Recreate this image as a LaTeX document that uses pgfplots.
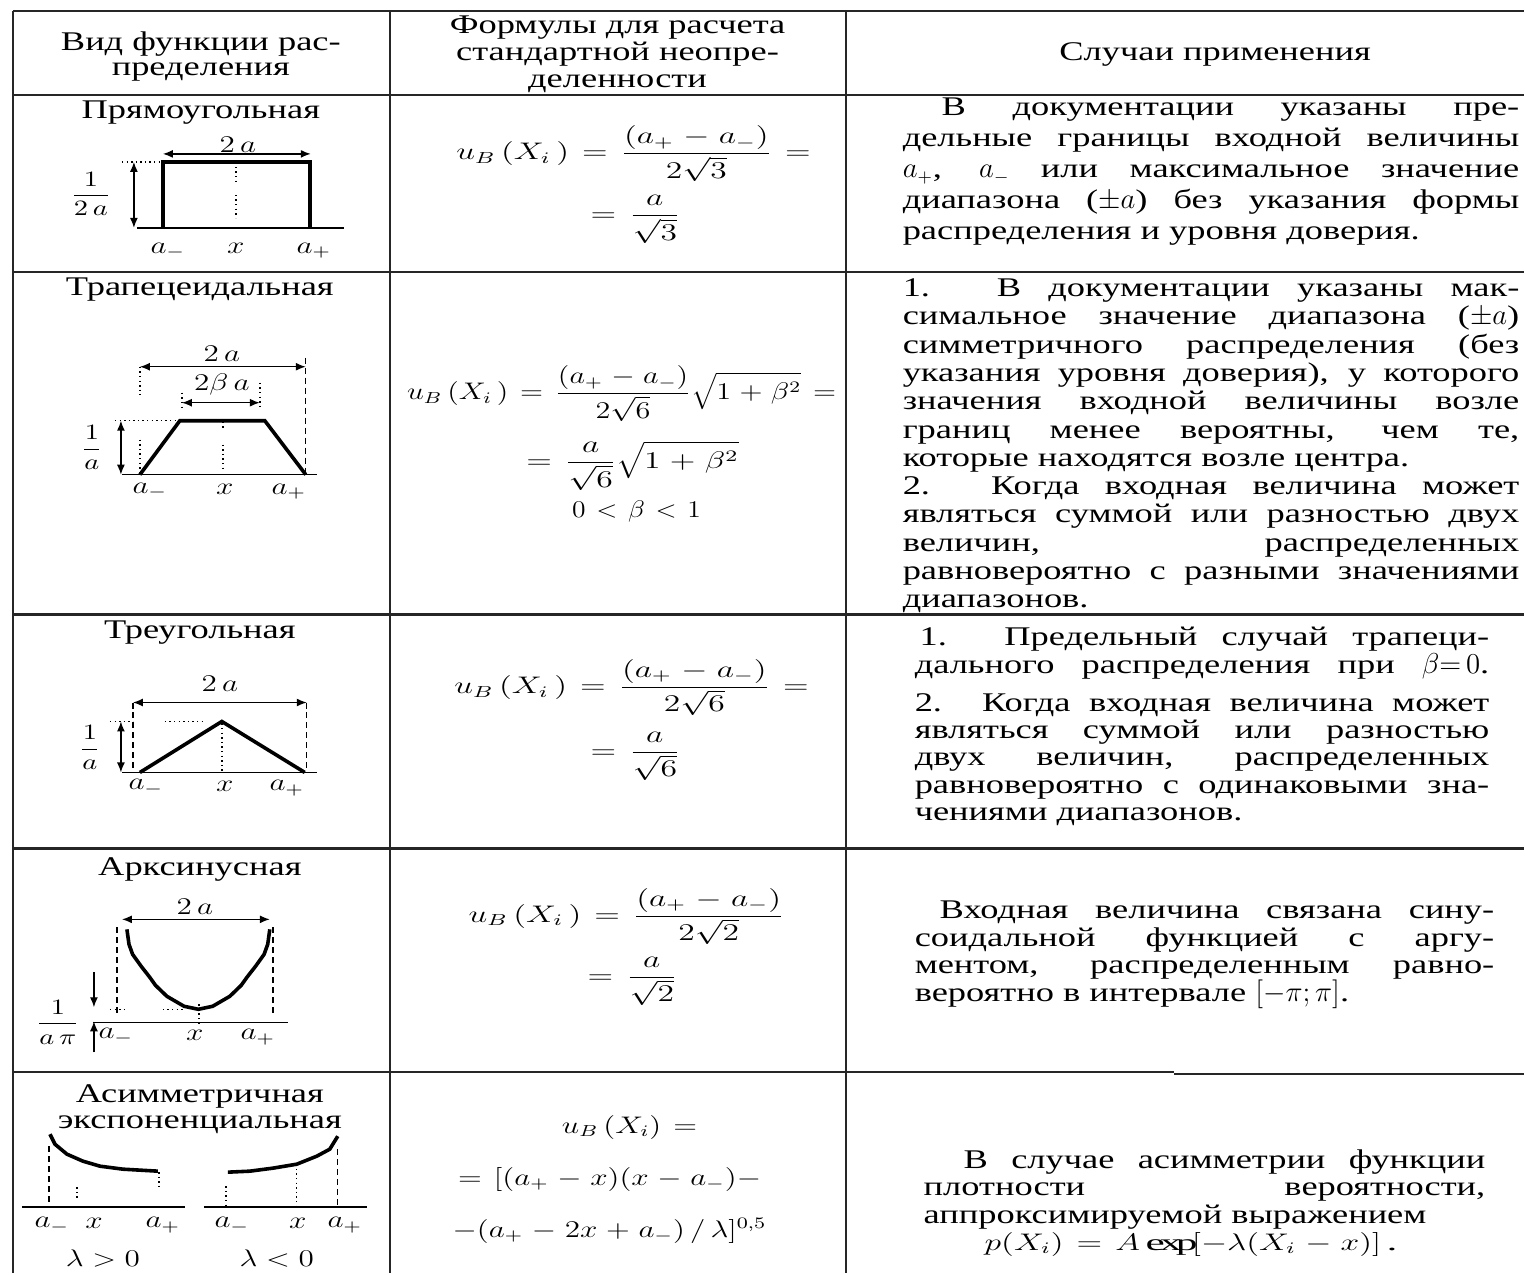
\documentclass[border=0pt]{standalone}
\usepackage{fontspec}
\setmainfont{Liberation Serif}[FakeStretch=1.35]
\usepackage{pgfplots}
\pgfplotsset{compat=1.18}
\usetikzlibrary{arrows.meta}
\newcommand{\TF}{\fontsize{13.5}{16}\selectfont}
\newcommand{\MF}{\fontsize{11.5}{14}\selectfont\thickmuskip=7mu plus 2mu\medmuskip=5mu plus 2mu}
\newcommand{\LF}{\fontsize{12}{14}\selectfont}
\newcommand{\SF}{\fontsize{11}{13}\selectfont}
\tikzset{
  tx/.style={inner sep=0pt, font=\TF},
  tl/.style={line width=1.1pt, black!85},
  tk/.style={line width=1.8pt, black},
  tn/.style={line width=0.7pt, black},
  dt/.style={line width=0.7pt, black, dash pattern=on 0.7pt off 1.6pt},
  ds/.style={line width=0.7pt, black, dash pattern=on 3pt off 2pt},
  ar/.style={line width=0.7pt, black, {Latex[length=5pt,width=4pt]}-{Latex[length=5pt,width=4pt]}},
  ad/.style={line width=0.7pt, black, -{Latex[length=5pt,width=4pt]}},
}
% justified line: x, baseline y, width (pt), text
\newcommand{\J}[4]{\node[tx,anchor=base west] at (axis cs:#1,#2) {\makebox[#3pt][s]{#4}};}
% left aligned line
\newcommand{\Lt}[3]{\node[tx,anchor=base west] at (axis cs:#1,#2) {#3};}
% centred line
\newcommand{\Ct}[3]{\node[tx,anchor=base] at (axis cs:#1,#2) {#3};}
% centred label (stretched like the reference)
\newcommand{\Mt}[3]{\node[inner sep=0pt,anchor=center,font=\LF,xscale=1.3] at (axis cs:#1,#2) {#3};}
\newcommand{\Fr}[3]{\node[inner sep=0pt,anchor=center,font=\SF,xscale=1.3] at (axis cs:#1,#2) {#3};}
% formula, anchored at its baseline: x, y, horizontal stretch, formula
\newcommand{\Fm}[4]{\node[inner sep=0pt,anchor=base,font=\MF,xscale=#3] at (axis cs:#1,#2) {#4};}
\begin{document}
\begin{tikzpicture}
\begin{axis}[
  width=762.5pt, height=637pt, scale only axis,
  xmin=0, xmax=1525, ymin=0, ymax=1274, y dir=reverse,
  hide axis, clip=false, enlargelimits=false, no markers,
]
% background
\addplot[fill=white, draw=none] coordinates {(0,0) (1525,0) (1525,1274) (0,1274) (0,0)};
% ---------------- table grid ----------------
\addplot[tl] coordinates {(13,11) (1525,11)};
\addplot[tl] coordinates {(13,95) (1525,95)};
\addplot[tl] coordinates {(13,272) (1525,272)};
\addplot[tl] coordinates {(13,615) (1525,615)};
\addplot[tl] coordinates {(13,849) (1525,849)};
\addplot[tl] coordinates {(13,1073) (1175,1073)};
\addplot[tl] coordinates {(1175,1075) (1525,1075)};
\addplot[tl] coordinates {(13,11) (13,1274)};
\addplot[tl] coordinates {(390,11) (390,1274)};
\addplot[tl] coordinates {(847,11) (847,1274)};
% ---------------- header ----------------
\Ct{201}{51}{Вид функции рас-}
\Ct{201}{76}{пределения}
\Ct{618}{34}{Формулы для расчета}
\Ct{618}{61}{стандартной неопре-}
\Ct{618}{88}{деленности}
\Ct{1216}{61}{Случаи применения}
% ---------------- row 1: rectangular ----------------
\Ct{201}{119}{Прямоугольная}
\addplot[tn] coordinates {(137,228) (344,228)};
\addplot[tk] coordinates {(163,228) (163,162) (310,162) (310,228)};
\addplot[dt] coordinates {(122,162) (163,162)};
\addplot[dt] coordinates {(236,167) (236,185)};
\addplot[dt] coordinates {(236,195) (236,218)};
\addplot[ar] coordinates {(163,154) (311,154)};
\addplot[ar] coordinates {(134,162) (134,228)};
\Mt{238}{145}{$2\,a$}
\Fr{91}{194}{$\displaystyle\frac{1}{2\,a}$}
\Mt{168}{251}{$a_-$}
\Mt{236}{249}{$x$}
\Mt{314}{251}{$a_+$}
\Fm{634}{160}{1.4}{$\displaystyle u_B\,(X_i\,)=\frac{(a_+ - a_-)}{2\sqrt{3}}=$}
\Fm{636}{222}{1.4}{$\displaystyle =\frac{a}{\sqrt{3}}$}
\J{942}{116}{289}{В документации указаны пре-}
\J{903}{147}{308.5}{дельные границы входной величины}
\J{903}{178}{308.5}{$a_+$, $a_-$ или максимальное значение}
\J{903}{209}{308.5}{диапазона ($\pm a$) без указания формы}
\Lt{903}{240}{распределения и уровня доверия.}
% ---------------- row 2: trapezoidal ----------------
\Ct{200}{296}{Трапецеидальная}
\addplot[tn] coordinates {(122,475) (317,475)};
\addplot[dt] coordinates {(115,421) (227,421)};
\addplot[tk] coordinates {(140,475) (180,421) (265,421) (306,475)};
\addplot[dt] coordinates {(140,367) (140,395)};
\addplot[dt] coordinates {(140,440) (140,475)};
\addplot[ds] coordinates {(306,358) (306,475)};
\addplot[ar] coordinates {(140,367) (306,367)};
\addplot[ar] coordinates {(182,403) (260,403)};
\addplot[dt] coordinates {(182,393) (182,410)};
\addplot[dt] coordinates {(260,383) (260,410)};
\addplot[dt] coordinates {(223,422) (223,430)};
\addplot[dt] coordinates {(223,445) (223,470)};
\addplot[ar] coordinates {(121,421) (121,475)};
\Mt{222}{354}{$2\,a$}
\Mt{222}{385}{$2\beta\, a$}
\Fr{92}{448}{$\displaystyle\frac{1}{a}$}
\Mt{150}{491}{$a_-$}
\Mt{225}{490}{$x$}
\Mt{289}{492}{$a_+$}
\Fm{622}{400}{1.26}{$\displaystyle u_B\,(X_i\,)=\frac{(a_+ - a_-)}{2\sqrt{6}}\sqrt{1+\beta^2}=$}
\Fm{633}{469}{1.4}{$\displaystyle =\frac{a}{\sqrt{6}}\sqrt{1+\beta^2}$}
\Fm{637}{518}{1.15}{$0<\beta<1$}
\J{903}{297}{308.5}{1. В документации указаны мак-}
\J{903}{325}{308.5}{симальное значение диапазона ($\pm a$)}
\J{903}{354}{308.5}{симметричного распределения (без}
\J{903}{382}{308.5}{указания уровня доверия), у которого}
\J{903}{410}{308.5}{значения входной величины возле}
\J{903}{439}{308.5}{границ менее вероятны, чем те,}
\Lt{903}{467}{которые находятся возле центра.}
\J{903}{495}{308.5}{2. Когда входная величина может}
\J{903}{523}{308.5}{являться суммой или разностью двух}
\J{903}{552}{308.5}{величин, распределенных}
\J{903}{580}{308.5}{равновероятно с разными значениями}
\Lt{903}{608}{диапазонов.}
% ---------------- row 3: triangular ----------------
\Ct{200}{639}{Треугольная}
\addplot[tn] coordinates {(122,773) (317,773)};
\addplot[dt] coordinates {(110,722) (133,722)};
\addplot[dt] coordinates {(165,722) (205,722)};
\addplot[tk] coordinates {(140,773) (222,722) (305,773)};
\addplot[ds] coordinates {(133,703) (133,773)};
\addplot[ds] coordinates {(307,703) (307,773)};
\addplot[dt] coordinates {(222,724) (222,773)};
\addplot[ar] coordinates {(133,703) (307,703)};
\addplot[ar] coordinates {(121,722) (121,773)};
\Mt{220}{684}{$2\,a$}
\Fr{90}{748}{$\displaystyle\frac{1}{a}$}
\Mt{146}{788}{$a_-$}
\Mt{225}{787}{$x$}
\Mt{287}{789}{$a_+$}
\Fm{632}{694}{1.4}{$\displaystyle u_B\,(X_i\,)=\frac{(a_+ - a_-)}{2\sqrt{6}}=$}
\Fm{636}{759}{1.4}{$\displaystyle =\frac{a}{\sqrt{6}}$}
\J{920}{646}{285}{1. Предельный случай трапеци-}
\J{915}{674}{287.5}{дального распределения при $\beta{=}\,0$.}
\J{915}{712}{287.5}{2. Когда входная величина может}
\J{915}{739}{287.5}{являться суммой или разностью}
\J{915}{766}{287.5}{двух величин, распределенных}
\J{915}{794}{287.5}{равновероятно с одинаковыми зна-}
\Lt{915}{821}{чениями диапазонов.}
% ---------------- row 4: arcsine ----------------
\Ct{200}{876}{Арксинусная}
\addplot[ar] coordinates {(122,920) (270,920)};
\addplot[ds] coordinates {(117,928) (117,1017)};
\addplot[ds] coordinates {(273,928) (273,1017)};
\addplot[tk] coordinates {(127,930) (129.1,945) (132.7,955) (141.3,967) (149.9,978) (155.6,986) (167.0,997) (184.2,1007) (198.5,1010) (212.8,1007) (230.0,997) (241.4,986) (247.1,978) (255.7,967) (264.3,955) (267.9,945) (270,930)};
\addplot[dt] coordinates {(110,1010) (127,1010)};
\addplot[dt] coordinates {(163,1010) (185,1010)};
\addplot[dt] coordinates {(199,1005) (199,1027)};
\addplot[tn] coordinates {(93,1023) (288,1023)};
\addplot[ad] coordinates {(94,973) (94,1008)};
\addplot[ad] coordinates {(94,1053) (94,1022)};
\Mt{195}{907}{$2\,a$}
\Fr{58}{1023}{$\displaystyle\frac{1}{a\,\pi}$}
\Mt{116}{1037}{$a_-$}
\Mt{195}{1036}{$x$}
\Mt{258}{1038}{$a_+$}
\Fm{627}{923}{1.4}{$\displaystyle u_B\,(X_i\,)=\frac{(a_+ - a_-)}{2\sqrt{2}}$}
\Fm{633}{984}{1.4}{$\displaystyle =\frac{a}{\sqrt{2}}$}
\J{940}{919}{277.5}{Входная величина связана сину-}
\J{915}{947}{290}{соидальной функцией с аргу-}
\J{915}{974}{290}{ментом, распределенным равно-}
\Lt{915}{1002}{вероятно в интервале $[-\pi;\pi]$.}
% ---------------- row 5: asymmetric exponential ----------------
\Ct{200}{1103}{Асимметричная}
\Ct{200}{1129}{экспоненциальная}
\addplot[tk] coordinates {(50,1135) (55,1145) (67,1155) (83,1162) (100,1167) (123,1170) (158,1172)};
\addplot[ds] coordinates {(49,1147) (49,1203)};
\addplot[dt] coordinates {(77,1188) (77,1200)};
\addplot[dt] coordinates {(159,1173) (159,1190)};
\addplot[tn] coordinates {(22,1208) (185,1208)};
\addplot[tk] coordinates {(228,1173) (250,1172) (273,1169) (297,1165) (317,1157) (330,1150) (338,1137)};
\addplot[dt] coordinates {(226,1187) (226,1208)};
\addplot[dt] coordinates {(297,1165) (297,1208)};
\addplot[ds] coordinates {(338,1150) (338,1208)};
\addplot[tn] coordinates {(204,1208) (367,1208)};
\Mt{52}{1226}{$a_-$}
\Mt{94}{1224}{$x$}
\Mt{163}{1226}{$a_+$}
\Mt{232}{1226}{$a_-$}
\Mt{298}{1224}{$x$}
\Mt{345}{1226}{$a_+$}
\Mt{103}{1259}{$\lambda>0$}
\Mt{277}{1259}{$\lambda<0$}
\Fm{630}{1134}{1.3}{$u_B\,(X_i)=$}
\Fm{610}{1186}{1.3}{$=[(a_+ - x)(x - a_-) -$}
\Fm{610}{1238}{1.3}{$-(a_+ - 2x + a_-)\,/\,\lambda]^{0,5}$}
\J{964}{1169}{261}{В случае асимметрии функции}
\J{924}{1196}{281}{плотности вероятности,}
\Lt{924}{1224}{аппроксимируемой выражением}
\Fm{1192}{1251}{1.4}{$p(X_i)=A\exp[-\lambda(X_i-x)]$\,.}
\end{axis}
\end{tikzpicture}
\end{document}
